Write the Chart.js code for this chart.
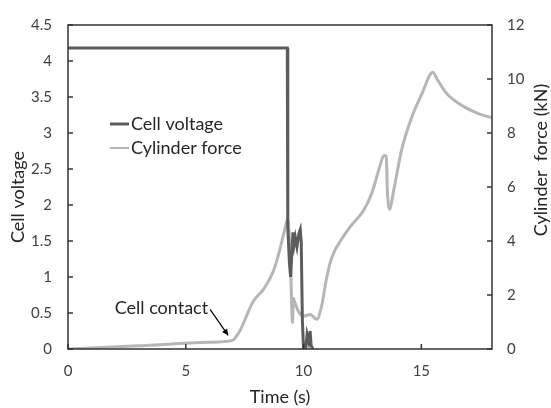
<!DOCTYPE html>
<html><head><meta charset="utf-8">
<script src="https://cdn.jsdelivr.net/npm/chart.js@4"></script>
<style>html,body{margin:0;padding:0;background:#fff;}canvas{display:block}</style>
</head><body>
<canvas id="c" width="551" height="408"></canvas>
<script>
// ---- data ----
const timeV   = [0, 9.31, 9.33, 9.40, 9.45, 9.55, 9.60, 9.65, 9.72, 9.80, 9.86, 9.90, 9.95, 10.00, 10.10, 10.15, 10.22, 10.28, 10.32, 10.40];
const voltage = [4.18, 4.18, 1.70, 1.20, 1.00, 1.62, 1.45, 1.55, 1.42, 1.60, 1.66, 1.50, 0.40, 0.00, 0.02, 0.20, 0.10, 0.25, 0.05, 0.00];

const timeF = [0, 3.0, 6.0, 6.98, 7.3, 7.86, 8.28, 8.7, 9.0, 9.18, 9.33, 9.45, 9.53, 9.57, 9.62, 9.78, 10.0, 10.28, 10.56, 10.78, 10.95, 11.13, 11.3, 11.55, 12.0, 12.54, 12.9, 13.25, 13.4, 13.51, 13.56, 13.65, 13.82, 14.17, 14.6, 15.02, 15.49, 15.7, 15.94, 16.2, 16.51, 16.9, 17.2, 17.5, 18.0];
const force = [0, 0.12, 0.25, 0.32, 0.68, 1.76, 2.19, 2.84, 3.7, 4.35, 4.82, 3.0, 0.98, 1.88, 1.75, 1.40, 1.22, 1.28, 1.10, 1.64, 2.5, 3.2, 3.6, 3.98, 4.55, 5.12, 5.78, 6.8, 7.16, 7.16, 5.84, 5.18, 5.84, 7.4, 8.6, 9.44, 10.25, 9.95, 9.62, 9.35, 9.14, 8.93, 8.80, 8.69, 8.57];

const seriesNames = ['Cell voltage', 'Cylinder force'];
const xTicks  = [0, 5, 10, 15];
const yTicks  = [0, 0.5, 1, 1.5, 2, 2.5, 3, 3.5, 4, 4.5];
const y1Ticks = [0, 2, 4, 6, 8, 10, 12];
const axisTitles = {x: 'Time (s)', y: 'Cell voltage', y1: 'Cylinder  force (kN)'};
const annotation = {text: 'Cell contact', textT: 5.95, textV: 0.57, arrowFromT: 6.03, arrowFromV: 0.55, arrowToT: 6.80, arrowToV: 0.19};

// ---- styling ----
const FONT = 'Lato';
const darkCol = '#5c5c5c';
const grayCol = '#b6b6b6';
const tickCol = '#404040';
const txtCol = '#262626';

const toPts = (xs, ys) => xs.map((x, i) => ({x, y: ys[i]}));

const decor = {
  id: 'decor',
  afterDraw(chart) {
    const {ctx, chartArea: a, scales} = chart;
    ctx.save();
    // frame
    ctx.strokeStyle = '#333';
    ctx.lineWidth = 1.5;
    ctx.strokeRect(a.left, a.top, a.right - a.left, a.bottom - a.top);
    // inward ticks
    ctx.beginPath();
    xTicks.forEach(v => { const p = scales.x.getPixelForValue(v); ctx.moveTo(p, a.bottom); ctx.lineTo(p, a.bottom - 5); });
    yTicks.forEach(v => { const p = scales.y.getPixelForValue(v); ctx.moveTo(a.left, p); ctx.lineTo(a.left + 5, p); });
    y1Ticks.forEach(v => { const p = scales.y1.getPixelForValue(v); ctx.moveTo(a.right, p); ctx.lineTo(a.right - 5, p); });
    ctx.stroke();

    // axis titles
    ctx.fillStyle = txtCol;
    ctx.font = '18px ' + FONT;
    ctx.textAlign = 'center';
    ctx.textBaseline = 'middle';
    ctx.fillText(axisTitles.x, (a.left + a.right) / 2, 397);
    ctx.save(); ctx.translate(18, 197); ctx.rotate(-Math.PI / 2); ctx.fillText(axisTitles.y, 0, 0); ctx.restore();
    ctx.save(); ctx.translate(541, 160); ctx.rotate(-Math.PI / 2); ctx.fillText(axisTitles.y1, 0, 0); ctx.restore();

    // legend
    const lx = a.left + 42, ly = a.top + 99;
    ctx.lineCap = 'butt';
    ctx.strokeStyle = darkCol; ctx.lineWidth = 3;
    ctx.beginPath(); ctx.moveTo(lx, ly); ctx.lineTo(lx + 19, ly); ctx.stroke();
    ctx.strokeStyle = grayCol; ctx.lineWidth = 2;
    ctx.beginPath(); ctx.moveTo(lx, ly + 24); ctx.lineTo(lx + 19, ly + 24); ctx.stroke();
    ctx.textAlign = 'left';
    ctx.fillStyle = txtCol;
    ctx.fillText(seriesNames[0], lx + 21, ly);
    ctx.fillText(seriesNames[1], lx + 21, ly + 24);

    // annotation
    const tx = scales.x.getPixelForValue(annotation.textT), ty = scales.y.getPixelForValue(annotation.textV);
    ctx.textAlign = 'right';
    ctx.fillText(annotation.text, tx, ty);
    const x0 = scales.x.getPixelForValue(annotation.arrowFromT), y0 = scales.y.getPixelForValue(annotation.arrowFromV);
    const x1 = scales.x.getPixelForValue(annotation.arrowToT), y1 = scales.y.getPixelForValue(annotation.arrowToV);
    ctx.strokeStyle = '#000'; ctx.fillStyle = '#000'; ctx.lineWidth = 1.2;
    ctx.beginPath(); ctx.moveTo(x0, y0); ctx.lineTo(x1, y1); ctx.stroke();
    const ang = Math.atan2(y1 - y0, x1 - x0), L = 7, W = 0.45;
    ctx.beginPath();
    ctx.moveTo(x1, y1);
    ctx.lineTo(x1 - L * Math.cos(ang - W), y1 - L * Math.sin(ang - W));
    ctx.lineTo(x1 - L * Math.cos(ang + W), y1 - L * Math.sin(ang + W));
    ctx.closePath(); ctx.fill();
    ctx.restore();
  }
};

const tickFmt = v => String(v);

function build() {
  new Chart(document.getElementById('c'), {
    type: 'line',
    data: {
      datasets: [
        {label: seriesNames[0], data: toPts(timeV, voltage), yAxisID: 'y', borderColor: darkCol, borderWidth: 3, pointRadius: 0, tension: 0, fill: false},
        {label: seriesNames[1], data: toPts(timeF, force), yAxisID: 'y1', borderColor: grayCol, borderWidth: 3, pointRadius: 0, cubicInterpolationMode: 'monotone', fill: false}
      ]
    },
    options: {
      responsive: false,
      animation: false,
      layout: {padding: {top: 15, left: 0, right: 0, bottom: 0}},
      plugins: {legend: {display: false}, tooltip: {enabled: false}},
      scales: {
        x: {type: 'linear', min: 0, max: 18,
            afterBuildTicks: s => { s.ticks = xTicks.map(v => ({value: v})); },
            ticks: {padding: 13, color: tickCol, font: {family: FONT, size: 15}, callback: tickFmt},
            grid: {drawOnChartArea: false, drawTicks: false}, border: {display: false},
            afterFit: s => { s.height = 59; }},
        y: {position: 'left', min: 0, max: 4.5,
            afterBuildTicks: s => { s.ticks = yTicks.map(v => ({value: v})); },
            ticks: {padding: 16, color: tickCol, font: {family: FONT, size: 15}, callback: tickFmt},
            grid: {drawOnChartArea: false, drawTicks: false}, border: {display: false},
            afterFit: s => { s.width = 68; }},
        y1: {position: 'right', min: 0, max: 12,
            afterBuildTicks: s => { s.ticks = y1Ticks.map(v => ({value: v})); },
            ticks: {padding: 15, color: tickCol, font: {family: FONT, size: 15}, callback: tickFmt},
            grid: {drawOnChartArea: false, drawTicks: false}, border: {display: false},
            afterFit: s => { s.width = 59; }}
      }
    },
    plugins: [decor]
  });
}
if (document.fonts && document.fonts.load) {
  Promise.all([document.fonts.load('15px ' + FONT), document.fonts.load('18px ' + FONT)]).then(build, build);
} else build();
</script>
</body></html>
